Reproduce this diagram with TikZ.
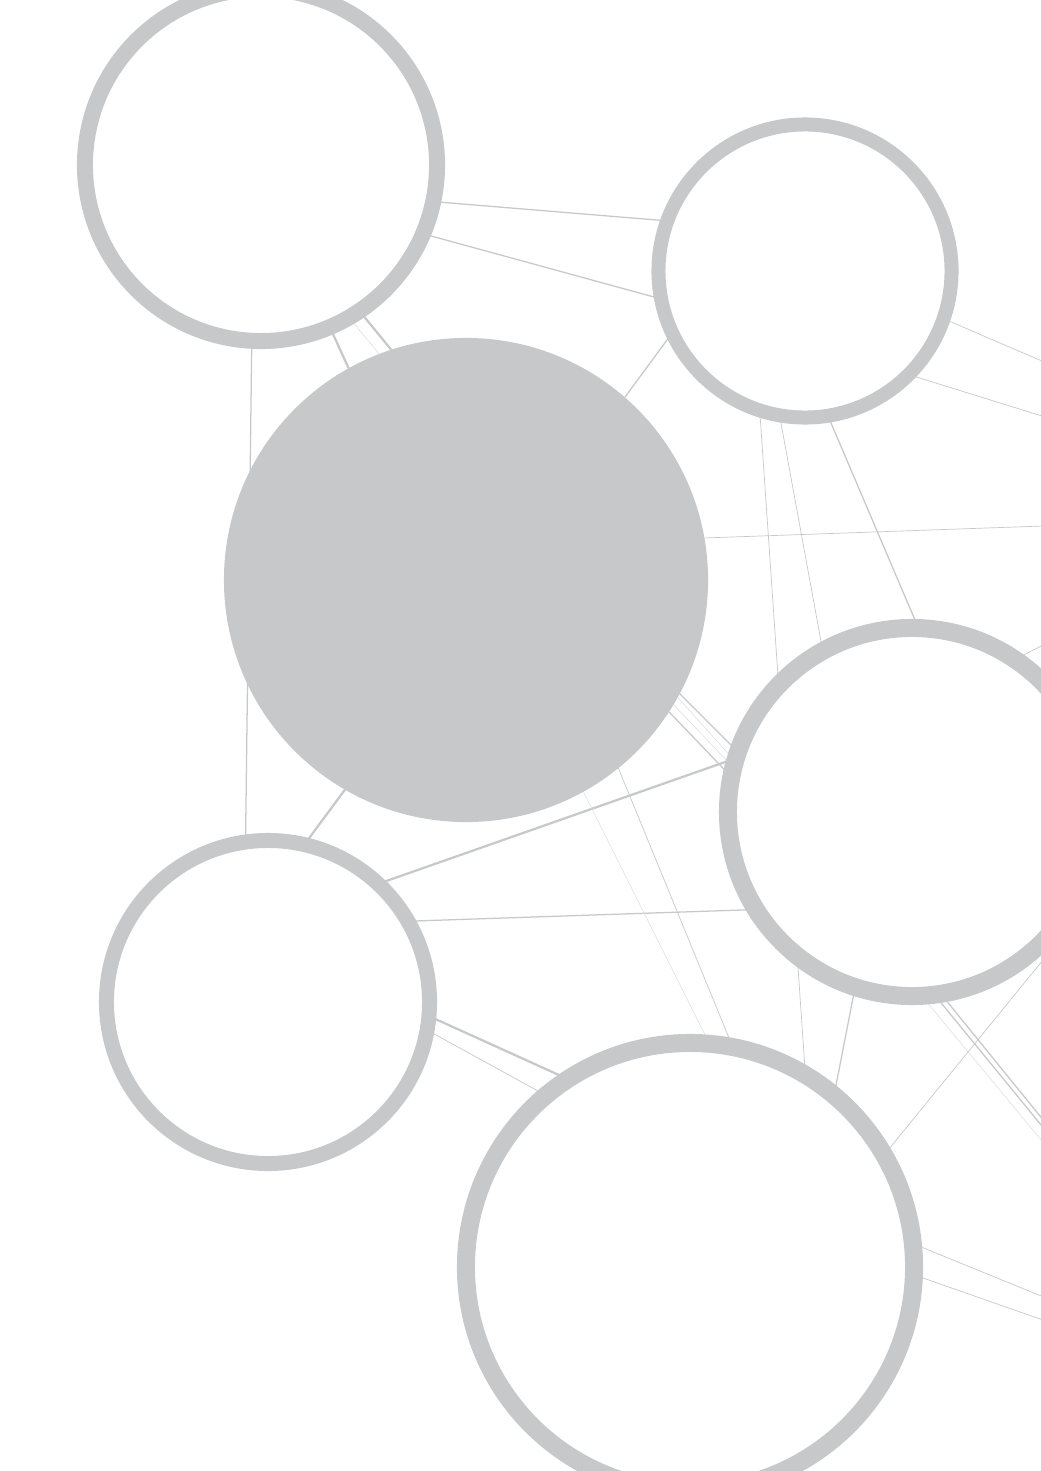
\documentclass[tikz,border=0pt]{standalone}
\usepackage{tikz}
\definecolor{ringgrey}{HTML}{C7C8CA}
\pgfdeclarelayer{back}
\pgfsetlayers{back,main}

\begin{document}
\begin{tikzpicture}[x=0.025cm, y=-0.025cm, ring/.style = {draw=ringgrey, circle, fill=white, inner sep=0pt, outer sep=0pt}, hub/.style = {circle, fill=ringgrey, inner sep=0pt, outer sep=0pt}, link/.style = {draw=ringgrey, line width=0.9pt}, heavy/.style = {draw=ringgrey, line width=1.6pt}, fine/.style = {draw=ringgrey, line width=0.5pt}, faint/.style = {draw=ringgrey!60, line width=0.4pt}]
                \path[use as bounding box] (0,0) rectangle (1040,1471);
                \node[ring, minimum size=8.8cm, line width=0.4cm] (r0) at (261,165) {};
                \node[ring, minimum size=7.325cm, line width=0.35cm] (r1) at (805,271) {};
                \node[hub, minimum size=12.1cm] (h) at (466,580) {};
                \node[ring, minimum size=9.2cm, line width=0.45cm] (r2) at (912,812) {};
                \node[ring, minimum size=8.075cm, line width=0.375cm] (r3) at (268,1002) {};
                \node[ring, minimum size=11.2cm, line width=0.45cm] (r4) at (690,1267) {};
                \coordinate (x0) at (1100,524);
                \coordinate (x1) at (1100,386);
                \coordinate (x2) at (1100,434);
                \coordinate (x3) at (1100,1197);
                \coordinate (x4) at (1100,1190);
                \coordinate (x5) at (1100,1211);
                \coordinate (x6) at (1100,890);
                \coordinate (x7) at (1100,1320);
                \coordinate (x8) at (1100,1340);
                \coordinate (x9) at (1100,616);
                \begin{pgfonlayer}{back}
                \draw[link] (r0.-12) -- (r1.160.6);
                \draw[link] (r0.-23.9) -- (r1.191.7);
                \draw[heavy] (r0.-67.9) -- (h.119.3);
                \draw[heavy] (r0.-56.9) -- (h.108.9);
                \draw[faint] (r0.-60.1) -- (h.111.2);
                \draw[link] (r0.-93.7) -- (r3.98.5);
                \draw[link] (r1.-155.4) -- (h.49.7);
                \draw[fine] (h.10.2) -- (x0);
                \draw[fine] (r1.-108.3) -- (r4.59.9);
                \draw[fine] (r1.-100.5) -- (r2.119.6);
                \draw[link] (r1.-81.4) -- (r2.88.8);
                \draw[fine] (r1.-19) -- (x1);
                \draw[fine] (r1.-45.3) -- (x2);
                \draw[link] (h.-28.3) -- (r2.161.4);
                \draw[link] (h.-33.8) -- (r2.169);
                \draw[faint] (h.-29.9) -- (r2.164.5);
                \draw[faint] (h.-31.8) -- (r2.166.5);
                \draw[heavy] (r3.47.4) -- (r2.163.4);
                \draw[link] (r3.30.1) -- (r2.212.6);
                \draw[faint] (h.-61.9) -- (r4.85.6);
                \draw[fine] (h.-51.3) -- (r4.79.4);
                \draw[heavy] (h.-120.4) -- (r3.77);
                \draw[heavy] (r3.-5.1) -- (r4.123.8);
                \draw[fine] (r3.-10.5) -- (r4.130);
                \draw[link] (r2.-108) -- (r4.50);
                \draw[link] (r2.-83.8) -- (x3);
                \draw[link] (r2.-81.4) -- (x4);
                \draw[faint] (r2.-87.1) -- (x5);
                \draw[fine] (r4.30.4) -- (x6);
                \draw[fine] (r4.6.6) -- (x7);
                \draw[fine] (r4.-2.2) -- (x8);
                \draw[fine] (r2.56.7) -- (x9);
                \end{pgfonlayer}
            \end{tikzpicture}
\end{document}
